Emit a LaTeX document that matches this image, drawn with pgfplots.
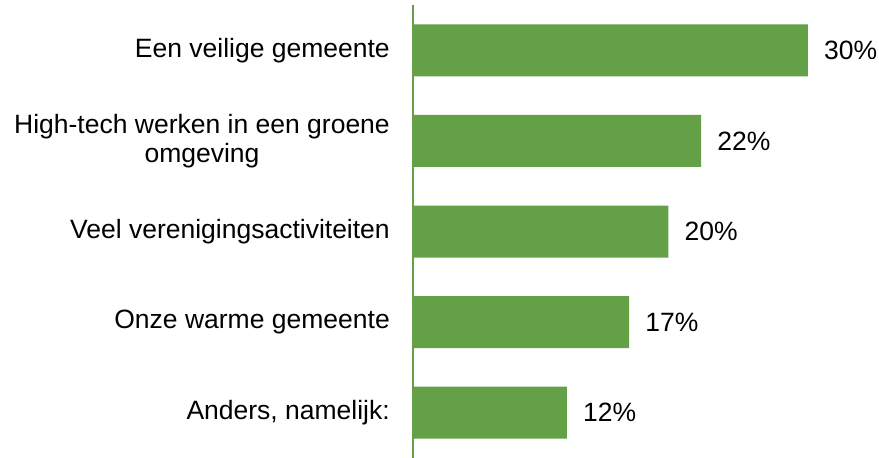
\documentclass[border=0pt]{standalone}
\usepackage{pgfplots}
\pgfplotsset{compat=1.18}
\usepackage{fontspec}
\setmainfont{Liberation Sans}
\definecolor{barGreen}{HTML}{63A046}
\newcommand{\lbl}{\fontsize{26.5}{29}\selectfont}
\begin{document}
\begin{tikzpicture}
\useasboundingbox (0,0) rectangle (879pt,458pt);
\begin{axis}[
    at={(413pt,0pt)}, anchor=south west,
    scale only axis,
    width=466pt, height=453pt,
    xbar,
    bar width=52pt,
    xmin=0, xmax=35.57,
    ymin=-0.5, ymax=4.5,
    y dir=reverse,
    axis x line=none,
    axis y line=left,
    axis line style={draw=none},
    ytick=data,
    yticklabels={
        Een veilige gemeente,
        {High-tech werken in een groene\\omgeving},
        Veel verenigingsactiviteiten,
        Onze warme gemeente,
        {Anders, namelijk:}
    },
    major tick length=0pt,
    yticklabel style={font=\lbl, align=center, inner sep=0pt, xshift=-23pt},
    point meta=explicit symbolic,
    nodes near coords={\pgfplotspointmeta\%},
    every node near coord/.append style={font=\lbl, anchor=west, inner sep=0pt, xshift=16pt, text=black},
    clip=false,
]
% bar lengths; labels as printed
\addplot[fill=barGreen, draw=none] coordinates {
    (30.15,0) [30]
    (22.0,1) [22]
    (19.5,2) [20]
    (16.5,3) [17]
    (11.75,4) [12]
};
\draw[barGreen, line width=1.8pt] (rel axis cs:0,0) -- (rel axis cs:0,1);
\end{axis}
\end{tikzpicture}
\end{document}
